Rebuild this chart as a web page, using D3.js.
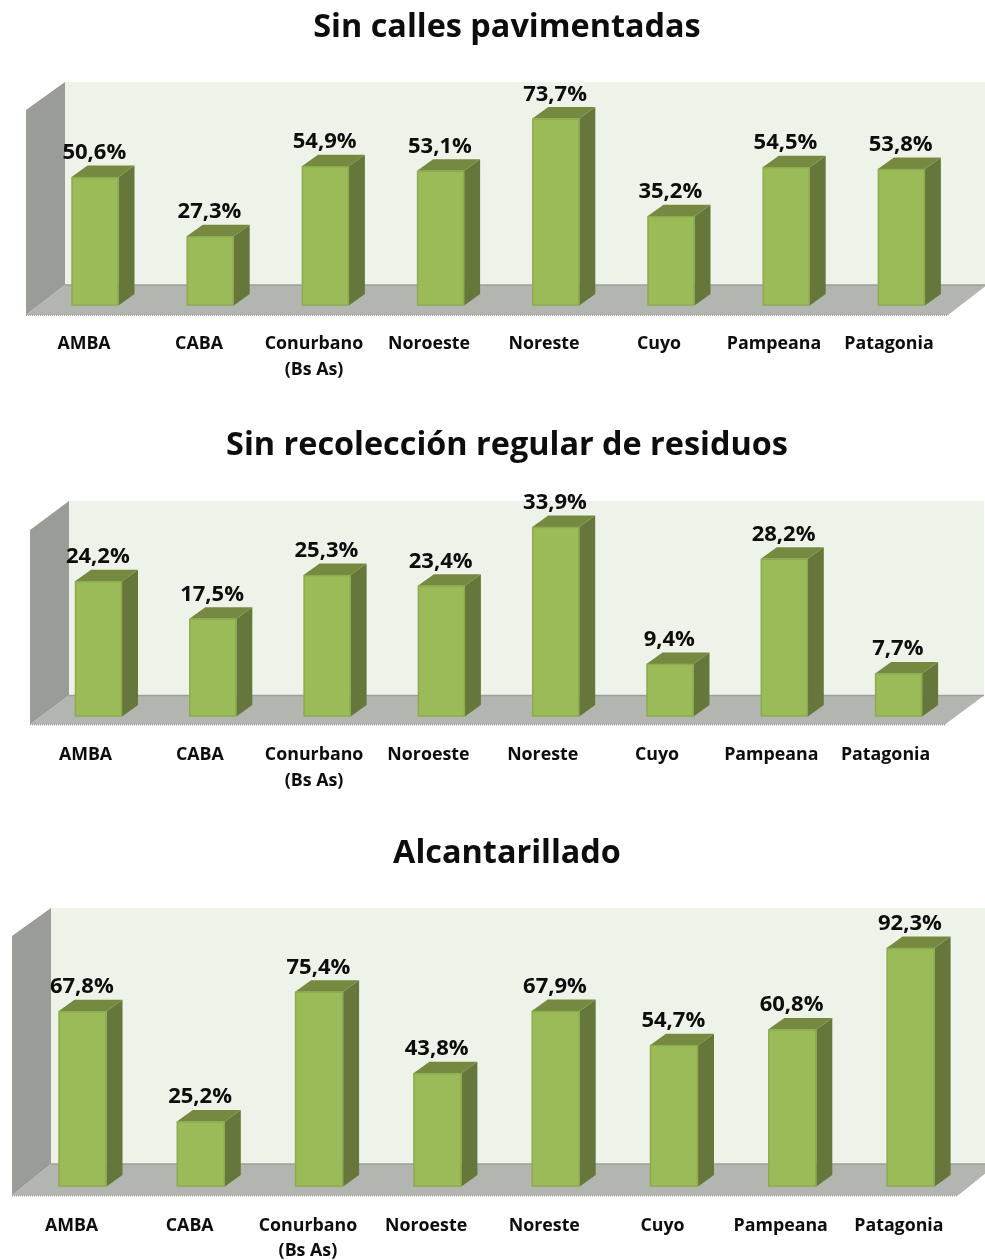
<!DOCTYPE html>
<html><head><meta charset="utf-8">
<script src="https://cdn.jsdelivr.net/npm/d3@7/dist/d3.min.js"></script>
<style>html,body{margin:0;padding:0;background:#fff;overflow:hidden}svg{display:block}
text{font-family:"Open Sans",sans-serif;font-weight:700;fill:#0b0b0b}</style></head>
<body><svg id="c" width="985" height="1260"><defs><filter id="soft" x="0" y="0" width="100%" height="100%"><feGaussianBlur stdDeviation="0.4"/></filter></defs></svg>
<script>
const categories = ["AMBA","CABA","Conurbano\n(Bs As)","Noroeste","Noreste","Cuyo","Pampeana","Patagonia"];
const titles = ["Sin calles pavimentadas","Sin recolección regular de residuos","Alcantarillado"];
const pavimento = [50.6,27.3,54.9,53.1,73.7,35.2,54.5,53.8];
const residuos = [24.2,17.5,25.3,23.4,33.9,9.4,28.2,7.7];
const alcantarillado = [67.8,25.2,75.4,43.8,67.9,54.7,60.8,92.3];
const seriesList = [pavimento,residuos,alcantarillado];

// layout only
const layout = [
 {titleY:37, wl:26, wr:65, top:82, back:285, front:315, leftTop:110, floorR:948, wallR:987, b0:71.5, step:115.2, bw:47, base:305.5, pxMax:187, dMax:73.7, lab:349, labOff:-11.5, labStep:115, gap:26},
 {titleY:455,wl:30, wr:69, top:501,back:695.5, front:724.5, leftTop:530, floorR:945, wallR:984, b0:75, step:114.3, bw:47, base:716.5, pxMax:189.5, dMax:33.9, lab:760, labOff:-13.5, labStep:114.3, gap:26},
 {titleY:863,wl:12, wr:51, top:908,back:1164,front:1195.5,leftTop:936, floorR:958, wallR:997, b0:58.5, step:118.3, bw:48, base:1186.5,pxMax:238.5, dMax:92.3, lab:1230.5,labOff:-11.5, labStep:118.2, gap:25}
];
const dx=16, dy=-11.5;
const svg=d3.select("#c");
const fmt=v=>v.toFixed(1).replace(".",",")+"%";
const line=d3.line();

seriesList.forEach((vals,i)=>{
  const L=layout[i];
  const g=svg.append("g").attr("filter","url(#soft)");
  const n=categories.length;
  const x=d3.scaleBand().domain(categories).range([L.b0,L.b0+L.step*(n-1)+L.bw]).paddingInner(1-L.bw/L.step).paddingOuter(0).align(0);
  const y=d3.scaleLinear().domain([0,L.dMax]).range([L.base,L.base-L.pxMax]);

  g.append("text").attr("x",507).attr("y",L.titleY).attr("text-anchor","middle").attr("font-size",32.4).text(titles[i]);

  // walls
  g.append("rect").attr("x",L.wr).attr("y",L.top).attr("width",L.wallR-L.wr).attr("height",L.back-L.top).attr("fill","#eef3e9");
  g.append("path").attr("d",line([[L.wl,L.leftTop],[L.wr,L.top],[L.wr,L.back],[L.wl,L.front]])+"Z").attr("fill","#9a9c97");
  g.append("path").attr("d",line([[L.wl,L.front],[L.wr,L.back],[L.wallR,L.back],[L.floorR,L.front]])+"Z").attr("fill","#b3b5b0");
  g.append("path").attr("d",line([[L.wr,L.back],[L.wallR,L.back]])).attr("stroke","#9ea09a").attr("stroke-width",1.5);
  g.append("path").attr("d",line([[L.wl,L.front],[L.floorR,L.front]])).attr("stroke","#a2a4a0").attr("stroke-width",2).attr("stroke-dasharray","1 1");
  g.append("path").attr("d",line([[L.wl,L.leftTop],[L.wl,L.front]])).attr("stroke","#a2a4a0").attr("stroke-width",2).attr("stroke-dasharray","1 1");

  // bars
  const bars=g.selectAll("g.bar").data(vals).join("g").attr("class","bar");
  const w=x.bandwidth();
  const X=(d,k)=>x(categories[k]);
  bars.append("path").attr("fill","#66773a").attr("d",(d,k)=>line([[X(d,k)+w,y(d)],[X(d,k)+w+dx,y(d)+dy],[X(d,k)+w+dx,y(0)+dy],[X(d,k)+w,y(0)]])+"Z");
  bars.append("path").attr("fill","#76893f").attr("d",(d,k)=>line([[X(d,k),y(d)],[X(d,k)+dx,y(d)+dy],[X(d,k)+w+dx,y(d)+dy],[X(d,k)+w,y(d)]])+"Z");
  bars.append("rect").attr("x",(d,k)=>X(d,k)+.5).attr("y",d=>y(d)+.5).attr("width",w-1).attr("height",d=>y(0)-y(d)-1)
      .attr("fill","#9bbb59").attr("stroke","#8cab4e").attr("stroke-width",1.5);
  bars.append("text").attr("x",(d,k)=>X(d,k)+w/2-0.7).attr("y",d=>y(d)-18).attr("text-anchor","middle").attr("font-size",22).text(fmt);

  // category axis
  const ax=d3.scalePoint().domain(categories).range([L.b0+w/2+L.labOff,L.b0+w/2+L.labOff+L.labStep*(n-1)]);
  const axisG=g.append("g").attr("transform",`translate(0,${L.lab})`).call(d3.axisBottom(ax).tickSize(0).tickPadding(0));
  axisG.select(".domain").remove();
  axisG.selectAll("text").attr("font-size",17.8).attr("dy",0).attr("y",0).attr("fill","#0b0b0b")
    .style("font-family",'"Open Sans",sans-serif').style("font-weight",700)
    .each(function(d){
      const parts=d.split("\n"), t=d3.select(this).text(null);
      parts.forEach((p,j)=>t.append("tspan").attr("x",0).attr("y",j*L.gap).text(p));
    });
});
</script></body></html>
